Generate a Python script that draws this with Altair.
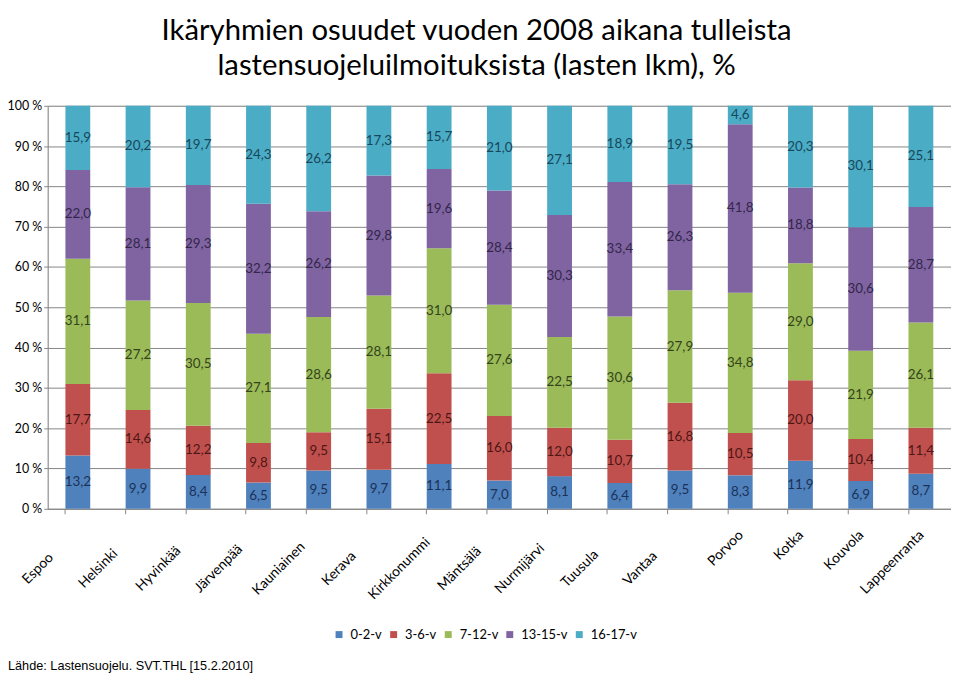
import altair as alt
import pandas as pd

cities = ["Espoo", "Helsinki", "Hyvinkää", "Järvenpää", "Kauniainen", "Kerava",
          "Kirkkonummi", "Mäntsälä", "Nurmijärvi", "Tuusula", "Vantaa", "Porvoo",
          "Kotka", "Kouvola", "Lappeenranta"]
groups = ["0-2-v", "3-6-v", "7-12-v", "13-15-v", "16-17-v"]
v_0_2 = [13.2, 9.9, 8.4, 6.5, 9.5, 9.7, 11.1, 7.0, 8.1, 6.4, 9.5, 8.3, 11.9, 6.9, 8.7]
v_3_6 = [17.7, 14.6, 12.2, 9.8, 9.5, 15.1, 22.5, 16.0, 12.0, 10.7, 16.8, 10.5, 20.0, 10.4, 11.4]
v_7_12 = [31.1, 27.2, 30.5, 27.1, 28.6, 28.1, 31.0, 27.6, 22.5, 30.6, 27.9, 34.8, 29.0, 21.9, 26.1]
v_13_15 = [22.0, 28.1, 29.3, 32.2, 26.2, 29.8, 19.6, 28.4, 30.3, 33.4, 26.3, 41.8, 18.8, 30.6, 28.7]
v_16_17 = [15.9, 20.2, 19.7, 24.3, 26.2, 17.3, 15.7, 21.0, 27.1, 18.9, 19.5, 4.6, 20.3, 30.1, 25.1]
series = [v_0_2, v_3_6, v_7_12, v_13_15, v_16_17]

colors = ["#4F81BD", "#C0504D", "#9BBB59", "#8064A2", "#4BACC6"]
label_colors = ["#1B3258", "#4E1614", "#33431A", "#33264A", "#17475A"]
y_ticks = [0, 10, 20, 30, 40, 50, 60, 70, 80, 90, 100]
title_lines = ["Ikäryhmien osuudet vuoden 2008 aikana tulleista",
               "lastensuojeluilmoituksista (lasten lkm), %"]
source_text = "Lähde: Lastensuojelu. SVT.THL [15.2.2010]"

rows = []
for i, c in enumerate(cities):
    total = sum(s[i] for s in series)
    cum = 0.0
    for g, s, lc in zip(groups, series, label_colors):
        v = s[i]
        y0 = cum / total * 100
        cum += v
        y1 = cum / total * 100
        rows.append({"city": c, "group": g, "value": v, "y0": y0, "y1": y1,
                     "mid": (y0 + y1) / 2, "label": f"{v:.1f}".replace(".", ","),
                     "lc": lc})
df = pd.DataFrame(rows)

GRAY = "#868686"
FONT = "Lato"
right_group = "indexof(['Porvoo','Kotka','Kouvola','Lappeenranta'], datum.value) >= 0"

x_scale = alt.Scale(domain=cities, paddingInner=0.588, paddingOuter=0.294)
y_scale = alt.Scale(domain=[0, 100], nice=False)

label_axis = alt.Axis(
    title=None, orient="bottom", ticks=False, domain=True, domainColor=GRAY,
    grid=False, labelAngle=-45, labelFont=FONT, labelFontSize=14, labelColor="black",
    labelOverlap=False, labelBound=False, labelFlush=False,
    labelAlign={"condition": {"test": right_group, "value": "right"}, "value": "center"},
    labelBaseline={"condition": {"test": right_group, "value": "top"}, "value": "middle"},
    labelOffset={"condition": {"test": right_group, "value": -4}, "value": -40},
    labelPadding={"condition": {"test": right_group, "value": 19}, "value": 60},
)
tick_axis = alt.Axis(
    title=None, orient="bottom", labels=False, domain=False, grid=False,
    ticks=True, tickSize=5, tickColor=GRAY, bandPosition=0,
)
y_axis = alt.Axis(
    title=None, values=y_ticks, grid=True, gridColor=GRAY, gridWidth=1,
    domain=True, domainColor=GRAY, ticks=True, tickSize=4, tickColor=GRAY,
    labelExpr="datum.value + ' %'", labelFont=FONT, labelFontSize=12.5,
    labelColor="black", labelPadding=2,
)

bars = alt.Chart(df).mark_bar().encode(
    x=alt.X("city:N", scale=x_scale, axis=label_axis, sort=cities),
    y=alt.Y("y0:Q", scale=y_scale, axis=y_axis),
    y2="y1:Q",
    color=alt.Color("group:N", scale=alt.Scale(domain=groups, range=colors),
                    legend=alt.Legend(title=None, orient="none", legendX=287, legendY=526,
                                      direction="horizontal", symbolType="square",
                                      symbolSize=49, symbolStrokeWidth=0,
                                      labelFont=FONT, labelFontSize=13, labelColor="black",
                                      labelOffset=5, columnPadding=5, padding=0)),
    order=alt.Order("y0:Q"),
)

texts = alt.Chart(df).mark_text(font=FONT, fontSize=13.5, align="center", baseline="middle").encode(
    x=alt.X("city:N", scale=x_scale, axis=tick_axis, sort=cities),
    y=alt.Y("mid:Q", scale=y_scale),
    text="label:N",
    color=alt.Color("lc:N", scale=None),
)

source = alt.Chart(pd.DataFrame({"t": [source_text]})).mark_text(
    font="Liberation Sans", fontSize=12.8, align="left", baseline="alphabetic", color="black"
).encode(x=alt.value(-40), y=alt.value(568), text="t:N")

chart = alt.layer(bars, texts, source).resolve_axis(x="independent").properties(
    width=910, height=406,
    autosize=alt.AutoSizeParams(type="none"),
    padding={"left": 40, "top": 96, "right": 0, "bottom": 168},
    title=alt.Title(title_lines, font=FONT, fontSize=29.5, fontWeight="normal", color="black",
                    anchor="middle", frame="group", dx=-23, baseline="bottom",
                    offset=34, dy=45, lineHeight=36),
).configure_view(stroke=None).configure(background="white")

chart.save("out.html", embed_options={"renderer": "svg", "actions": False})
